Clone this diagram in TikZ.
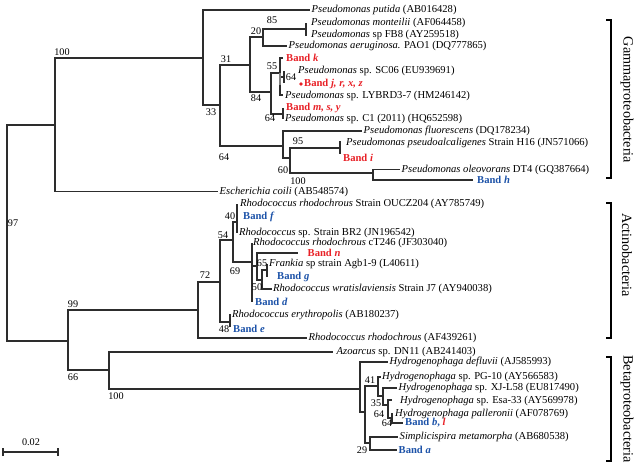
\documentclass[tikz,border=0pt]{standalone}
\usepackage{fontspec}
\setmainfont{Liberation Serif}
\definecolor{bred}{RGB}{232,32,38}
\definecolor{bblue}{RGB}{28,82,168}
\definecolor{treeline}{RGB}{45,45,45}
\newcommand\tfnt{\fontsize{10.6}{12}\selectfont}
\newcommand\bfnt{\fontsize{10.2}{12}\selectfont}
\newcommand\cfnt{\fontsize{14.2}{16}\selectfont}
\newcommand\bandR[1]{\textcolor{bred}{\textbf{Band \textit{#1}}}}
\newcommand\bandB[1]{\textcolor{bblue}{\textbf{Band \textit{#1}}}}
\begin{document}
\begin{tikzpicture}[x=1pt,y=-1pt,
  br/.style={draw=treeline, line width=1.2pt},
  brk/.style={draw=black, line width=1.6pt},
  lf/.style={anchor=west, inner sep=1.5pt, font=\tfnt},
  bs/.style={inner sep=0pt, font=\bfnt},
  clade/.style={inner sep=0pt, font=\cfnt, rotate=-90}]
\useasboundingbox (0,0) rectangle (639,464);
% ---------- internal nodes ----------
\coordinate (R0) at (7,233);
\coordinate (N100) at (55,125);
\coordinate (N99) at (68,341);
\coordinate (N33) at (203,58);
\coordinate (N31) at (220,105);
\coordinate (N20) at (250,65);
\coordinate (N85) at (263,37);
\coordinate (Nmf) at (306,29);
\coordinate (N84) at (271,92);
\coordinate (N55) at (280,73);
\coordinate (N64s) at (284,77);
\coordinate (N64c) at (283,114);
\coordinate (N64g) at (283,146);
\coordinate (N60) at (290,158);
\coordinate (N95) at (340,148);
\coordinate (N100h) at (373,173);
\coordinate (N72) at (198,310);
\coordinate (N72a) at (220,282);
\coordinate (N48) at (230,322);
\coordinate (N54) at (233,240);
\coordinate (N40) at (237,222);
\coordinate (N69) at (252,262);
\coordinate (N69b) at (257,266);
\coordinate (N50) at (262,280);
\coordinate (N65) at (267,270);
\coordinate (NB) at (109,370);
\coordinate (NR) at (360,389);
\coordinate (NS) at (365,412);
\coordinate (N41) at (378,386);
\coordinate (N35) at (383,396);
\coordinate (N64x) at (388,405);
\coordinate (N64y) at (392,418);
\coordinate (N29) at (370,443);
% ---------- tips ----------
\coordinate (tmont) at (306,22.5);
\coordinate (tfb8) at (306,35.5);
\coordinate (tk) at (283,58);
\coordinate (tsc) at (284,71);
\coordinate (tj) at (284,83);
\coordinate (tly) at (283,95);
\coordinate (tm) at (283,108);
\coordinate (tc1) at (283,119);
\coordinate (tpa) at (340,141);
\coordinate (ti) at (340,154);
\coordinate (th) at (473,180);
\coordinate (toucz) at (237,204);
\coordinate (tbr2) at (237,233);
\coordinate (tct) at (252,243);
\coordinate (tn) at (298,253);
\coordinate (tfr) at (267,264);
\coordinate (tg) at (267,277);
\coordinate (twr) at (272,289);
\coordinate (td) at (252,302);
\coordinate (ter) at (230,314);
\coordinate (te) at (230,327);
\coordinate (tazo) at (333,352);
\coordinate (tpg) at (381,377);
\coordinate (tesa) at (392,400);
\coordinate (tpal) at (392,413);
\coordinate (tb) at (403,423);
% ---------- leaf labels ----------
\node[lf] (putida) at (310,10) {\textit{Pseudomonas putida} (AB016428)};
\node[lf] (mont) at (309.5,22.5) {\textit{Pseudomonas monteilii} (AF064458)};
\node[lf] (fb8) at (309.5,35) {\textit{Pseudomonas} sp FB8 (AY259518)};
\node[lf] (aer) at (287,46) {\textit{Pseudomonas aeruginosa.} PAO1 (DQ777865)};
\node[lf] (bk) at (284.5,58) {\bandR{k}};
\node[lf] (sc) at (296.5,70.5) {\textit{Pseudomonas} sp. SC06 (EU939691)};
\fill[bred] (301,84) circle (1.9);
\node[lf] (bj) at (302.5,84) {\bandR{j, r, x, z}};
\node[lf] (ly) at (283.5,96) {\textit{Pseudomonas} sp. LYBRD3-7 (HM246142)};
\node[lf] (bm) at (284.5,107.5) {\bandR{m, s, y}};
\node[lf] (c1) at (283.5,118.5) {\textit{Pseudomonas} sp. C1 (2011) (HQ652598)};
\node[lf] (flu) at (362,131) {\textit{Pseudomonas fluorescens} (DQ178234)};
\node[lf] (pal) at (344.5,143) {\textit{Pseudomonas pseudoalcaligenes} Strain H16 (JN571066)};
\node[lf] (bi) at (341.5,157.5) {\bandR{i}};
\node[lf] (ole) at (400,169.5) {\textit{Pseudomonas oleovorans} DT4 (GQ387664)};
\node[lf] (bh) at (475.5,180) {\bandB{h}};
\node[lf] (eco) at (218,191.5) {\textit{Escherichia coili} (AB548574)};
\node[lf] (oucz) at (238.5,204) {\textit{Rhodococcus rhodochrous} Strain OUCZ204 (AY785749)};
\node[lf] (bf) at (241.5,217) {\bandB{f}};
\node[lf] (br2) at (237.5,233) {\textit{Rhodococcus} sp. Strain BR2 (JN196542)};
\node[lf] (ct) at (251.5,243) {\textit{Rhodococcus rhodochrous} cT246 (JF303040)};
\node[lf] (bn) at (306,253) {\bandR{n}};
\node[lf] (fr) at (267.5,264) {\textit{Frankia} sp strain Agb1-9 (L40611)};
\node[lf] (bg) at (275.5,277) {\bandB{g}};
\node[lf] (wr) at (271.5,289) {\textit{Rhodococcus wratislaviensis} Strain J7 (AY940038)};
\node[lf] (bd) at (253.5,302) {\bandB{d}};
\node[lf] (er) at (230.5,315) {\textit{Rhodococcus erythropolis} (AB180237)};
\node[lf] (be) at (231.5,329) {\bandB{e}};
\node[lf] (af) at (307,338) {\textit{Rhodococcus rhodochrous} (AF439261)};
\node[lf] (azo) at (335,352) {\textit{Azoarcus} sp. DN11 (AB241403)};
\node[lf] (def) at (388,362) {\textit{Hydrogenophaga defluvii} (AJ585993)};
\node[lf] (pg) at (380.5,377) {\textit{Hydrogenophaga} sp. PG-10 (AY566583)};
\node[lf] (xj) at (397,388) {\textit{Hydrogenophaga} sp. XJ-L58 (EU817490)};
\node[lf] (esa) at (398.5,400.5) {\textit{Hydrogenophaga} sp. Esa-33 (AY569978)};
\node[lf] (pll) at (393.5,413.5) {\textit{Hydrogenophaga palleronii} (AF078769)};
\node[lf] (bb) at (403.5,423) {\textcolor{bblue}{\textbf{Band \textit{b},}} \textcolor{bred}{\textbf{\textit{l}}}};
\node[lf] (sim) at (398,437) {\textit{Simplicispira metamorpha} (AB680538)};
\node[lf] (ba) at (397,450) {\bandB{a}};
% ---------- branches ----------
\draw[br] (R0) |- (N100) (R0) |- (N99);
\draw[br] (N100) |- (N33) (N100) |- (eco.west);
\draw[br] (N33) |- (putida.west) (N33) |- (N31);
\draw[br] (N31) |- (N20) (N31) |- (N64g);
\draw[br] (N20) |- (N85) (N20) |- (N84);
\draw[br] (N85) |- (Nmf) (N85) |- (aer.west);
\draw[br] (Nmf) |- (tmont) (Nmf) |- (tfb8);
\draw[br] (N84) |- (N55) (N84) |- (N64c);
\draw[br] (N55) |- (tk) (N55) |- (N64s) (N55) |- (tly);
\draw[br] (N64s) |- (tsc) (N64s) |- (tj);
\fill[gray] (278.6,73) rectangle (281.4,85);
\draw[br] (N64c) |- (tm) (N64c) |- (tc1);
\draw[br] (N64g) |- (flu.west) (N64g) |- (N60);
\draw[br] (N60) |- (N95) (N60) |- (N100h);
\draw[br] (N95) |- (tpa) (N95) |- (ti);
\draw[br] (N100h) |- (ole.west) (N100h) |- (th);
\draw[br] (N99) |- (N72) (N99) |- (NB);
\draw[br] (N72) |- (N72a) (N72) |- (af.west);
\draw[br] (N72a) |- (N54) (N72a) |- (N48);
\draw[br] (N48) |- (ter) (N48) |- (te);
\draw[br] (N54) |- (N40) (N54) |- (N69);
\draw[br] (N40) |- (toucz) (N40) |- (tbr2);
\draw[br] (N69) |- (tct) (N69) |- (N69b) (N69) |- (td);
\draw[br] (N69b) |- (tn) (N69b) |- (N50);
\draw[br] (N50) |- (N65) (N50) |- (twr);
\draw[br] (N65) |- (tfr) (N65) |- (tg);
\draw[br] (NB) |- (tazo) (NB) |- (NR);
\draw[br] (NR) |- (def.west) (NR) |- (NS);
\draw[br] (NS) |- (N41) (NS) |- (N29);
\draw[br] (N41) |- (tpg) (N41) |- (N35);
\draw[br] (N35) |- (xj.west) (N35) |- (N64x);
\draw[br] (N64x) |- (tesa) (N64x) |- (N64y);
\draw[br] (N64y) |- (tpal) (N64y) |- (tb);
\draw[br] (N29) |- (sim.west) (N29) |- (ba.west);
% ---------- bootstrap values ----------
\node[bs] (v100a) at (62,52) {100};
\node[bs] (v97) at (13,223) {97};
\node[bs] (v33) at (211,112) {33};
\node[bs] (v31) at (226,59) {31};
\node[bs] (v64g) at (224,157) {64};
\node[bs] (v20) at (256,31) {20};
\node[bs] (v85) at (272,20) {85};
\node[bs] (v84) at (256,98) {84};
\node[bs] (v55) at (272,66) {55};
\node[bs] (v64s) at (291,77) {64};
\node[bs] (v64c) at (270,118) {64};
\node[bs] (v95) at (298,141) {95};
\node[bs] (v60) at (283,170) {60};
\node[bs] (v100h) at (298,181) {100};
\node[bs] (v40) at (230,216) {40};
\node[bs] (v54) at (223,235) {54};
\node[bs] (v69) at (235,271) {69};
\node[bs] (v65) at (262,263) {65};
\node[bs] (v50) at (257,287) {50};
\node[bs] (v72) at (205,275) {72};
\node[bs] (v48) at (224,329) {48};
\node[bs] (v99) at (73,304) {99};
\node[bs] (v66) at (73,377) {66};
\node[bs] (v100b) at (116,396) {100};
\node[bs] (v41) at (370,380) {41};
\node[bs] (v35) at (376,403) {35};
\node[bs] (v64x) at (379,414) {64};
\node[bs] (v64y) at (387,423) {64};
\node[bs] (v29) at (362,450) {29};
% ---------- scale bar ----------
\coordinate (sbL) at (3,452);
\coordinate (sbR) at (58,452);
\draw[br] (sbL) -- (sbR);
\draw[br] ([yshift=-4]sbL) -- ([yshift=4]sbL);
\draw[br] ([yshift=-4]sbR) -- ([yshift=4]sbR);
\node[bs] (sbt) at (31,442) {0.02};
% ---------- clade brackets ----------
\coordinate (gT) at (611,20);  \coordinate (gB) at (611,178);
\coordinate (aT) at (611,203); \coordinate (aB) at (611,338);
\coordinate (bT) at (611,357); \coordinate (bB) at (611,461);
\draw[brk] ([xshift=-5]gT) -- (gT) -- (gB) -- ([xshift=-5]gB);
\draw[brk] ([xshift=-5]aT) -- (aT) -- (aB) -- ([xshift=-5]aB);
\draw[brk] ([xshift=-5]bT) -- (bT) -- (bB) -- ([xshift=-5]bB);
\node[clade] (gam) at (627,100) {Gammaproteobacteria};
\node[clade] (act) at (627,255) {Actinobacteria};
\node[clade] (bet) at (627,409) {Betaproteobacteria};
\end{tikzpicture}
\end{document}
